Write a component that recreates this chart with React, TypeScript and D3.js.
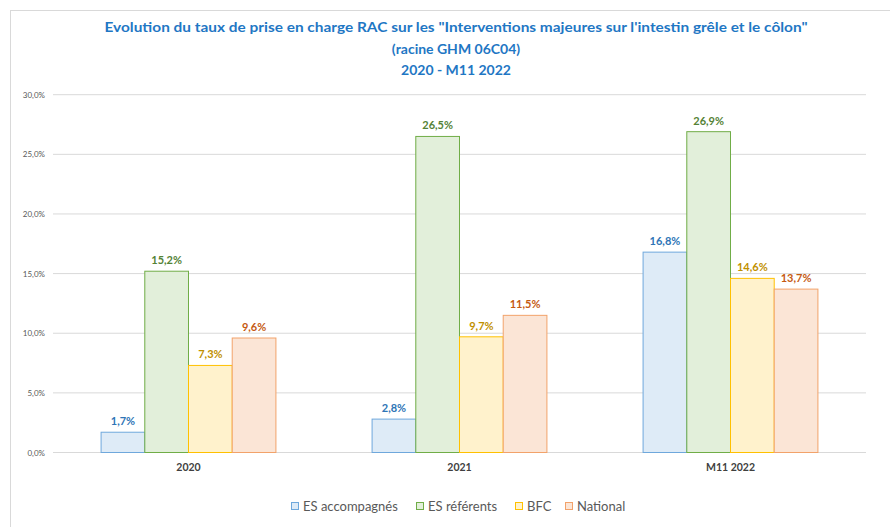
import React from 'react';
import { scaleBand, scaleLinear } from 'd3';

const categories = ['2020', '2021', 'M11 2022'];
const seriesNames = ['ES accompagnés', 'ES référents', 'BFC', 'National'];
const esAccompagnes = [1.7, 2.8, 16.8];
const esReferents = [15.2, 26.5, 26.9];
const bfc = [7.3, 9.7, 14.6];
const national = [9.6, 11.5, 13.7];
const yTicks = [0, 5, 10, 15, 20, 25, 30];
const titleLines = [
    'Evolution du taux de prise en charge RAC sur les "Interventions majeures sur l\'intestin grêle et le côlon"',
    '(racine GHM 06C04)',
    '2020 - M11 2022'
];

const seriesValues = [esAccompagnes, esReferents, bfc, national];
const fills = ['#DEEBF7', '#E2EFDA', '#FFF2CC', '#FBE5D6'];
const strokes = ['#6FA8DC', '#70AD47', '#FFC000', '#F2A26A'];
const labelColors = ['#2E75B6', '#548235', '#BF9000', '#C55A11'];

const fmt = (v: number) => v.toFixed(1).replace('.', ',') + '%';

const width = 890;
const height = 527;
const marginLeft = 53;
const marginRight = 24;
const plotTop = 94.7;
const plotBottom = 452.5;
const font = 'Lato, "Open Sans", sans-serif';

const App = () => {
    // scales
    const x = scaleBand<string>()
        .domain(categories)
        .range([marginLeft, width - marginRight]);
    const inner = scaleBand<number>()
        .domain(seriesNames.map((_, i) => i))
        .range([0, x.bandwidth()])
        .paddingOuter(1.1);
    const y = scaleLinear().domain([0, 30]).range([plotBottom, plotTop]);

    const legendX = [291, 416, 515, 565];

    return (
        <svg width={width} height={height} style={{ position: 'absolute', left: 0, top: 0 }}>
            <rect x={0} y={0} width={width} height={height} fill="#fff" />
            {/* outer frame */}
            <rect x={10.5} y={10.5} width={width + 10} height={height + 10} fill="none" stroke="#D9D9D9" />

            {/* title */}
            {titleLines.map((t, i) => (
                <text
                    key={t}
                    x={456}
                    y={32 + i * 21.5}
                    textAnchor="middle"
                    fontFamily={font}
                    fontWeight="bold"
                    fontSize={14}
                    fill="#1F77C4"
                    textLength={i === 0 ? 703 : undefined}
                    lengthAdjust="spacingAndGlyphs"
                >
                    {t}
                </text>
            ))}

            {/* grid + y axis */}
            {yTicks.map((t) => (
                <g key={t}>
                    <line x1={marginLeft} x2={width - marginRight} y1={y(t)} y2={y(t)} stroke="#D9D9D9" strokeWidth={1} />
                    <text x={45} y={y(t) + 3} textAnchor="end" fontFamily={font} fontSize={8} fill="#595959">
                        {fmt(t)}
                    </text>
                </g>
            ))}

            {/* bars */}
            {categories.map((c, ci) => (
                <g key={c} transform={`translate(${x(c)},0)`}>
                    {seriesValues.map((vals, si) => {
                        const bx = inner(si) as number;
                        const bw = inner.bandwidth();
                        const v = vals[ci];
                        return (
                            <g key={si}>
                                <rect
                                    x={bx}
                                    y={y(v)}
                                    width={bw}
                                    height={y(0) - y(v)}
                                    fill={fills[si]}
                                    stroke={strokes[si]}
                                    strokeWidth={1}
                                />
                                <text
                                    x={bx + bw / 2}
                                    y={y(v) - 7}
                                    textAnchor="middle"
                                    fontFamily={font}
                                    fontWeight="bold"
                                    fontSize={11}
                                    fill={labelColors[si]}
                                >
                                    {fmt(v)}
                                </text>
                            </g>
                        );
                    })}
                    <text
                        x={x.bandwidth() / 2}
                        y={471}
                        textAnchor="middle"
                        fontFamily={font}
                        fontWeight="bold"
                        fontSize={10.5}
                        fill="#404040"
                    >
                        {c}
                    </text>
                </g>
            ))}

            {/* legend */}
            {seriesNames.map((name, i) => (
                <g key={name} transform={`translate(${legendX[i]},0)`}>
                    <rect x={0.5} y={502.5} width={7} height={7} fill={fills[i]} stroke={strokes[i]} />
                    <text x={12} y={511} fontFamily={font} fontSize={13} fill="#595959">
                        {name}
                    </text>
                </g>
            ))}
        </svg>
    );
};

export default App;
